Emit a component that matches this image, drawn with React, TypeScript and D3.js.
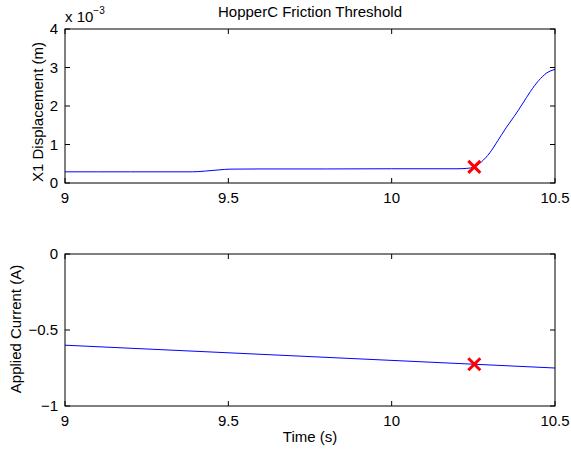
import React from "react";
import * as d3 from "d3";

const W = 571;
const H = 449;

// Top panel: X1 displacement (units of 1e-3 m)
const timeTop = [9, 9.1, 9.2, 9.3, 9.39, 9.43, 9.47, 9.505, 9.6, 9.8, 10.0, 10.2, 10.23, 10.253, 10.275, 10.3, 10.325, 10.35, 10.375, 10.4, 10.425, 10.45, 10.475, 10.5];
const dispTop = [0.29, 0.29, 0.29, 0.29, 0.29, 0.31, 0.34, 0.36, 0.365, 0.365, 0.37, 0.37, 0.38, 0.42, 0.55, 0.78, 1.1, 1.43, 1.73, 2.05, 2.38, 2.66, 2.86, 2.95];

// Bottom panel: applied current (A)
const timeBottom = [9, 10.5];
const currentBottom = [-0.6, -0.75];

// Threshold marker
const markerTime = 10.253;
const markerDisp = 0.42;
const markerCurrent = -0.725;

const xTicks = [9, 9.5, 10, 10.5];
const yTicksTop = [0, 1, 2, 3, 4];
const yTicksBottom = [-1, -0.5, 0];

const FONT = "'Liberation Sans', Arial, Helvetica, sans-serif";
const FS = 15;

const L = 65, R = 555;
const topPanel = { t: 29, b: 183 };
const botPanel = { t: 254, b: 406 };

function fmt(v: number) {
  const s = String(v);
  return s.replace("-", "\u2212");
}

function Panel({ yDomain, top, bottom, yTicks, xs, ys, mx, my }: any) {
  const x = d3.scaleLinear().domain([9, 10.5]).range([L, R]);
  const y = d3.scaleLinear().domain(yDomain).range([bottom, top]);
  const line = d3
    .line<number>()
    .x((_, i) => x(xs[i]))
    .y((d) => y(d))
    .curve(d3.curveMonotoneX);
  const tl = 5;
  const ms = 6;
  return (
    <g>
      <rect x={L} y={top} width={R - L} height={bottom - top} fill="white" stroke="none" />
      <defs>
        <clipPath id={`clip${top}`}>
          <rect x={L} y={top} width={R - L} height={bottom - top} />
        </clipPath>
      </defs>
      <path d={line(ys) || ""} fill="none" stroke="#0000ff" strokeWidth={1} clipPath={`url(#clip${top})`} />
      <g stroke="#ff0000" strokeWidth={3}>
        <line x1={x(mx) - ms} y1={y(my) - ms} x2={x(mx) + ms} y2={y(my) + ms} />
        <line x1={x(mx) - ms} y1={y(my) + ms} x2={x(mx) + ms} y2={y(my) - ms} />
      </g>
      {xTicks.map((t) => (
        <g key={"x" + t} stroke="black" strokeWidth={1}>
          <line x1={x(t)} x2={x(t)} y1={bottom} y2={bottom - tl} />
          <line x1={x(t)} x2={x(t)} y1={top} y2={top + tl} />
        </g>
      ))}
      {yTicks.map((t: number) => (
        <g key={"y" + t} stroke="black" strokeWidth={1}>
          <line x1={L} x2={L + tl} y1={y(t)} y2={y(t)} />
          <line x1={R} x2={R - tl} y1={y(t)} y2={y(t)} />
        </g>
      ))}
      <rect x={L} y={top} width={R - L} height={bottom - top} fill="none" stroke="black" strokeWidth={1} />
      {xTicks.map((t) => (
        <text key={"xl" + t} x={x(t)} y={bottom + 20} textAnchor="middle" fontSize={FS} fontFamily={FONT}>
          {fmt(t)}
        </text>
      ))}
      {yTicks.map((t: number) => (
        <text key={"yl" + t} x={58} y={y(t) + 5} textAnchor="end" fontSize={FS} fontFamily={FONT}>
          {fmt(t)}
        </text>
      ))}
    </g>
  );
}

export default function App() {
  return (
    <svg width={W} height={H} style={{ position: "absolute", left: 0, top: 0, background: "white" }}>
      <rect x={0} y={0} width={W} height={H} fill="white" />
      <Panel yDomain={[0, 4]} top={topPanel.t} bottom={topPanel.b} yTicks={yTicksTop} xs={timeTop} ys={dispTop} mx={markerTime} my={markerDisp} />
      <Panel yDomain={[-1, 0]} top={botPanel.t} bottom={botPanel.b} yTicks={yTicksBottom} xs={timeBottom} ys={currentBottom} mx={markerTime} my={markerCurrent} />
      <text x={(L + R) / 2} y={17} textAnchor="middle" fontSize={FS} fontFamily={FONT}>
        HopperC Friction Threshold
      </text>
      <text x={65} y={22} fontSize={FS} fontFamily={FONT}>
        x 10
        <tspan dy={-8} fontSize={10}>{"\u22123"}</tspan>
      </text>
      <text transform={`translate(43,112) rotate(-90)`} textAnchor="middle" fontSize={FS} fontFamily={FONT}>
        X1 Displacement (m)
      </text>
      <text transform={`translate(21,329) rotate(-90)`} textAnchor="middle" fontSize={FS} fontFamily={FONT}>
        Applied Current (A)
      </text>
      <text x={(L + R) / 2} y={442} textAnchor="middle" fontSize={FS} fontFamily={FONT}>
        Time (s)
      </text>
    </svg>
  );
}
